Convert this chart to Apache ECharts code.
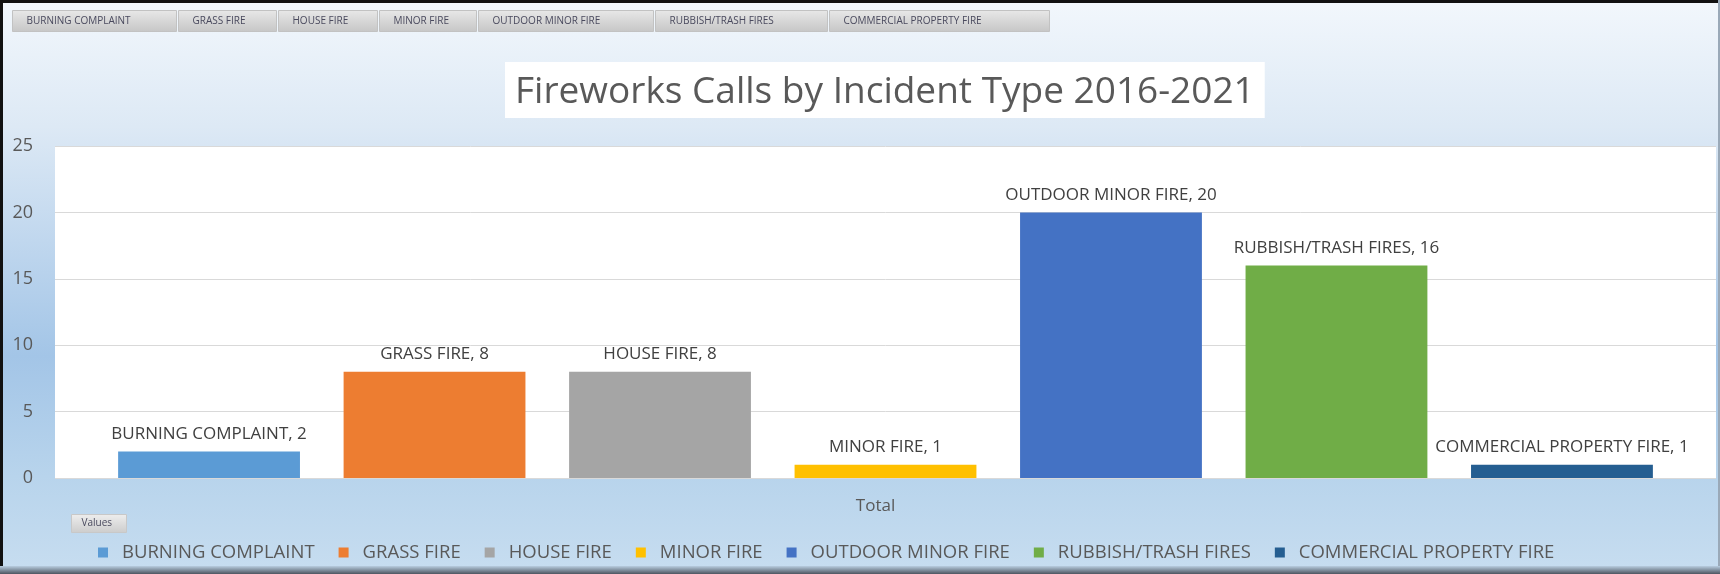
<!DOCTYPE html>
<html>
<head>
<meta charset="utf-8">
<script src="https://cdn.jsdelivr.net/npm/echarts@6/dist/echarts.min.js"></script>
<style>
  html, body { margin: 0; padding: 0; background: #fff; }
  #main { width: 1720px; height: 574px; }
</style>
</head>
<body>
<div id="main"></div>
<script>
var categories = ['BURNING COMPLAINT', 'GRASS FIRE', 'HOUSE FIRE', 'MINOR FIRE', 'OUTDOOR MINOR FIRE', 'RUBBISH/TRASH FIRES', 'COMMERCIAL PROPERTY FIRE'];
var values = [2, 8, 8, 1, 20, 16, 1];
var xLabels = ['Total'];
var yMin = 0, yMax = 25, yStep = 5;

var colors = ['#5b9bd5', '#ed7d31', '#a5a5a5', '#ffc000', '#4472c4', '#70ad47', '#255e91'];
var font = 'Open Sans';
var textColor = '#595959';

// pivot field buttons along the top (widths only, layout)
var buttonWidths = [164, 98, 99, 97, 175, 172, 220];
var graphics = [];
var bx = 12;
for (var i = 0; i < categories.length; i++) {
  graphics.push({
    type: 'group',
    left: bx,
    top: 10,
    children: [{
      type: 'rect',
      shape: { x: 0, y: 0, width: buttonWidths[i], height: 21 },
      style: {
        fill: new echarts.graphic.LinearGradient(0, 0, 0, 1, [
          { offset: 0, color: '#e8e8e8' },
          { offset: 1, color: '#c6c6c6' }
        ]),
        stroke: '#c2c2c2',
        lineWidth: 1
      }
    }, {
      type: 'text',
      x: 14,
      y: 11,
      style: {
        text: categories[i],
        fill: '#4a4a5e',
        font: '10px "' + font + '"',
        textVerticalAlign: 'middle'
      }
    }]
  });
  bx += buttonWidths[i] + 2;
}

// "Values" button
graphics.push({
  type: 'group',
  left: 71,
  top: 514,
  children: [{
    type: 'rect',
    shape: { x: 0, y: 0, width: 55, height: 18 },
    style: {
      fill: new echarts.graphic.LinearGradient(0, 0, 0, 1, [
        { offset: 0, color: '#eeeeee' },
        { offset: 1, color: '#cccccc' }
      ]),
      stroke: '#c8c8c8'
    }
  }, {
    type: 'text',
    x: 10,
    y: 9,
    style: { text: 'Values', fill: '#4a4a5e', font: '10px "' + font + '"', textVerticalAlign: 'middle' }
  }]
});

// frame of the original screenshot
graphics.push(
  { type: 'rect', left: 0, top: 0, shape: { width: 1720, height: 3 }, style: { fill: '#111' }, z: 100 },
  { type: 'rect', left: 0, top: 0, shape: { width: 3, height: 574 }, style: { fill: '#111' }, z: 100 },
  { type: 'rect', left: 1718, top: 0, shape: { width: 2, height: 574 }, style: { fill: '#9aa9b8' }, z: 100 },
  {
    type: 'rect', left: 0, top: 566, shape: { width: 1720, height: 8 }, z: 100,
    style: {
      fill: new echarts.graphic.LinearGradient(0, 0, 0, 1, [
        { offset: 0, color: '#b8cde0' },
        { offset: 1, color: '#4d5560' }
      ])
    }
  }
);

var seriesList = categories.map(function (name, i) {
  return {
    name: name,
    type: 'bar',
    data: [values[i]],
    barGap: '24%',
    barCategoryGap: '7.6%',
    itemStyle: { color: colors[i] },
    label: {
      show: true,
      position: 'top',
      distance: 9,
      formatter: '{a}, {c}',
      color: '#404040',
      fontFamily: font,
      fontSize: 17
    }
  };
});

var option = {
  animation: false,
  backgroundColor: new echarts.graphic.LinearGradient(0, 0, 0, 1, [
    { offset: 0, color: '#f2f7fc' },
    { offset: 0.22, color: '#dde9f5' },
    { offset: 0.62, color: '#a3c5e7' },
    { offset: 0.83, color: '#b8d4ec' },
    { offset: 1, color: '#c7ddf0' }
  ]),
  title: {
    text: 'Fireworks Calls by Incident Type 2016-2021',
    left: 505,
    top: 62,
    backgroundColor: '#ffffff',
    padding: [8, 10, 4, 10],
    textStyle: {
      fontFamily: font,
      fontSize: 37,
      fontWeight: 'normal',
      color: textColor,
      lineHeight: 44
    }
  },
  legend: {
    left: 93,
    top: 538,
    icon: 'rect',
    itemWidth: 10,
    itemHeight: 10,
    itemGap: 24,
    textStyle: { fontFamily: font, fontSize: 18.5, color: textColor, padding: [0, 0, 0, 9] },
    data: categories
  },
  grid: {
    left: 55,
    right: 4,
    top: 146,
    bottom: 96,
    show: true,
    backgroundColor: '#ffffff',
    borderWidth: 0
  },
  xAxis: {
    type: 'category',
    data: xLabels,
    axisLine: { show: false },
    axisTick: { show: false },
    axisLabel: { margin: 20, fontFamily: font, fontSize: 17, color: textColor, padding: [0, 20, 0, 0] }
  },
  yAxis: {
    type: 'value',
    min: yMin,
    max: yMax,
    interval: yStep,
    axisLine: { show: false },
    axisTick: { show: false },
    axisLabel: { margin: 22, fontFamily: font, fontSize: 18, color: textColor },
    splitLine: { lineStyle: { color: '#d9d9d9', width: 1 } }
  },
  graphic: graphics,
  series: seriesList
};

var chart = echarts.init(document.getElementById('main'));
chart.setOption(option);
</script>
</body>
</html>
